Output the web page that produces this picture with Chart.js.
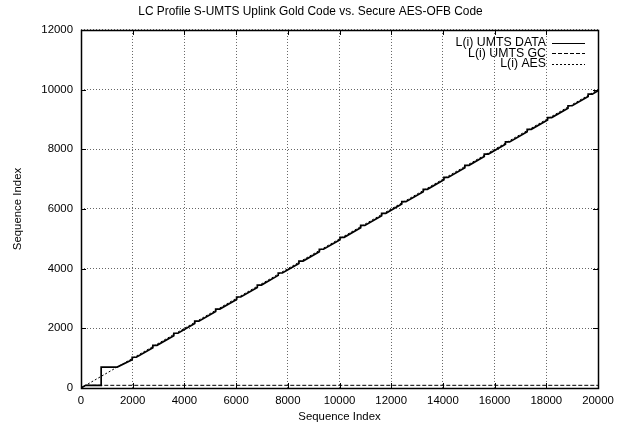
<!DOCTYPE html>
<html>
<head>
<meta charset="utf-8">
<title>LC Profile</title>
<script src="https://cdn.jsdelivr.net/npm/chart.js@4.4.0/dist/chart.umd.min.js"></script>
<style>
  html, body { margin: 0; padding: 0; background: #fff; }
  #wrap { width: 621px; height: 425px; }
</style>
</head>
<body>
<div id="wrap"><canvas id="lcChart" width="621" height="425"></canvas></div>
<script>
// values

var titleText = "LC Profile S-UMTS Uplink Gold Code vs. Secure AES-OFB Code";
var seriesNames = ["L(i) UMTS DATA", "L(i) UMTS GC", "L(i) AES"];

var xTicks = [0, 2000, 4000, 6000, 8000, 10000, 12000, 14000, 16000, 18000, 20000];
var yTicks = [0, 2000, 4000, 6000, 8000, 10000, 12000];

// UMTS data: big jump near 780, then small jogs about the i/2 line
var dataIdx = [0, 180, 780, 780, 1400,
  1980, 1980, 2140, 2780, 2780, 2940, 3590, 3590, 3750, 4400, 4400, 4560,
  5210, 5210, 5370, 6020, 6020, 6180, 6820, 6820, 6980, 7630, 7630, 7790,
  8430, 8430, 8590, 9220, 9220, 9380, 10020, 10020, 10180, 10820, 10820, 10980,
  11630, 11630, 11790, 12410, 12410, 12570, 13240, 13240, 13400, 14040, 14040, 14200,
  14850, 14850, 15010, 15600, 15600, 15760, 16420, 16420, 16580, 17260, 17260, 17420,
  18050, 18050, 18210, 18840, 18840, 19000, 19620, 19620, 19780, 20000];
var dataLC = [0, 90, 90, 700, 700,
  950, 1030, 1030, 1350, 1430, 1430, 1755, 1835, 1835, 2160, 2240, 2240,
  2565, 2645, 2645, 2970, 3050, 3050, 3370, 3450, 3450, 3775, 3855, 3855,
  4175, 4255, 4255, 4570, 4650, 4650, 4970, 5050, 5050, 5370, 5450, 5450,
  5775, 5855, 5855, 6165, 6245, 6245, 6580, 6660, 6660, 6980, 7060, 7060,
  7385, 7465, 7465, 7760, 7840, 7840, 8170, 8250, 8250, 8590, 8670, 8670,
  8985, 9065, 9065, 9380, 9460, 9460, 9770, 9850, 9850, 9960];

// Gold code: climbs right away and stays flat
var gcIdx = [0, 180, 20000];
var gcLC = [0, 90, 90];

// AES: follows i/2
var aesIdx = [0, 5000, 10000, 15000, 20000];
var aesLC = [0, 2500, 5000, 7500, 10000];

function toPoints(xs, ys) {
  var pts = [];
  for (var i = 0; i < xs.length; i++) {
    pts.push({ x: xs[i], y: ys[i] });
  }
  return pts;
}

var fontFamily = "'Liberation Sans', Arial, Helvetica, sans-serif";
var lineDash = [[], [4, 2], [2, 2]];
var lineWidths = [1.7, 1, 1];

// gnuplot style frame: full border and inward ticks on all four sides
var framePlugin = {
  id: 'frame',
  afterDatasetsDraw: function(chart) {
    var ctx = chart.ctx, a = chart.chartArea;
    var xs = chart.scales.x, ys = chart.scales.y;
    var tl = 5;
    ctx.save();
    ctx.strokeStyle = '#000';
    ctx.lineWidth = 1;
    ctx.setLineDash([]);
    ctx.beginPath();
    xTicks.forEach(function(v) {
      var px = Math.round(xs.getPixelForValue(v)) + 0.5;
      ctx.moveTo(px, a.bottom); ctx.lineTo(px, a.bottom - tl);
      ctx.moveTo(px, a.top); ctx.lineTo(px, a.top + tl);
    });
    yTicks.forEach(function(v) {
      var py = Math.round(ys.getPixelForValue(v)) + 0.5;
      ctx.moveTo(a.left, py); ctx.lineTo(a.left + tl, py);
      ctx.moveTo(a.right, py); ctx.lineTo(a.right - tl, py);
    });
    ctx.stroke();
    ctx.lineWidth = 1.5;
    ctx.strokeRect(Math.round(a.left) + 0.5, Math.round(a.top) + 0.5,
      Math.round(a.right - a.left), Math.round(a.bottom - a.top));
    ctx.restore();
  },
  afterDraw: function(chart) {
    // key in the top right corner, text right aligned then line sample
    var ctx = chart.ctx;
    ctx.save();
    ctx.font = '12.3px ' + fontFamily;
    ctx.fillStyle = '#000';
    ctx.textAlign = 'right';
    ctx.textBaseline = 'middle';
    chart.data.datasets.forEach(function(ds, i) {
      var y = 43 + i * 10.3;
      ctx.fillText(ds.label, 546, y);
      ctx.beginPath();
      ctx.setLineDash(lineDash[i]);
      ctx.lineWidth = i === 0 ? 1.2 : 1;
      ctx.strokeStyle = '#000';
      ctx.moveTo(552, Math.round(y) + 0.5);
      ctx.lineTo(585, Math.round(y) + 0.5);
      ctx.stroke();
    });
    ctx.restore();
  }
};

var datasets = [
  { label: seriesNames[0], data: toPoints(dataIdx, dataLC) },
  { label: seriesNames[1], data: toPoints(gcIdx, gcLC) },
  { label: seriesNames[2], data: toPoints(aesIdx, aesLC) }
].map(function(ds, i) {
  ds.showLine = true;
  ds.borderColor = '#000';
  ds.backgroundColor = '#000';
  ds.borderWidth = lineWidths[i];
  ds.borderDash = lineDash[i];
  ds.pointRadius = 0;
  ds.tension = 0;
  ds.fill = false;
  return ds;
});

function plainLabel(v) { return String(v); }

var ctx = document.getElementById("lcChart");
var lcChart = new Chart(ctx, {
  type: 'scatter',
  data: { datasets: datasets },
  plugins: [framePlugin],
  options: {
    responsive: false,
    animation: false,
    layout: { padding: 0 },
    plugins: {
      legend: { display: false },
      tooltip: { enabled: false },
      title: {
        display: true,
        text: titleText,
        color: '#000',
        font: { family: fontFamily, size: 11.9, weight: 'normal' },
        padding: { top: 5, bottom: 10.7 }
      }
    },
    scales: {
      x: {
        type: 'linear',
        min: 0,
        max: 20000,
        afterBuildTicks: function(scale) {
          scale.ticks = xTicks.map(function(v) { return { value: v }; });
        },
        afterFit: function(scale) { scale.height = 37; },
        grid: { color: '#666', lineWidth: 1, drawTicks: false },
        border: { display: false, dash: [1, 2] },
        ticks: {
          color: '#000',
          padding: 6,
          maxRotation: 0,
          autoSkip: false,
          callback: plainLabel,
          font: { family: fontFamily, size: 11.4 }
        },
        title: {
          display: true,
          text: 'Sequence Index',
          color: '#000',
          font: { family: fontFamily, size: 11.4 },
          padding: { top: 0, bottom: 1 }
        }
      },
      y: {
        type: 'linear',
        min: 0,
        max: 12000,
        afterBuildTicks: function(scale) {
          scale.ticks = yTicks.map(function(v) { return { value: v }; });
        },
        afterFit: function(scale) { scale.width = 81; },
        grid: { color: '#666', lineWidth: 1, drawTicks: false },
        border: { display: false, dash: [1, 2] },
        ticks: {
          color: '#000',
          padding: 8,
          callback: plainLabel,
          font: { family: fontFamily, size: 11.4 }
        },
        title: {
          display: true,
          text: 'Sequence Index',
          color: '#000',
          font: { family: fontFamily, size: 11.4 },
          padding: { top: 11.4, bottom: 0 }
        }
      },
      // empty right margin so the title is centred on the whole page
      yRight: {
        type: 'linear',
        position: 'right',
        min: 0,
        max: 12000,
        afterFit: function(scale) { scale.width = 23; },
        grid: { drawOnChartArea: false, drawTicks: false },
        border: { display: false },
        ticks: { display: false }
      }
    }
  }
});
</script>
</body>
</html>
